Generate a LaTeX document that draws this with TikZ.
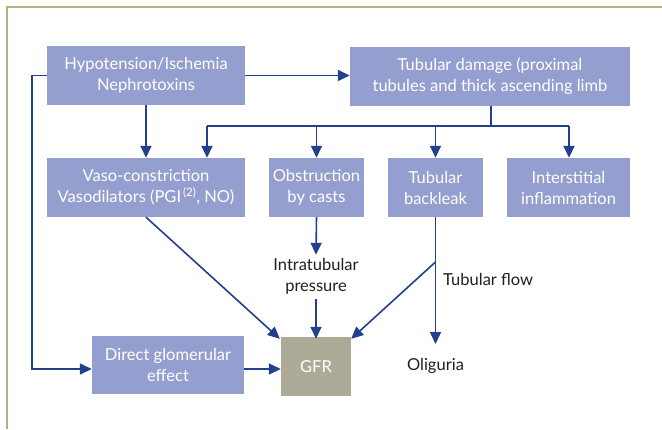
\documentclass[tikz,border=0pt]{standalone}
\usepackage{fontspec}
\setmainfont{Lato}
\usetikzlibrary{arrows.meta,calc}
\definecolor{boxc}{HTML}{959FCF}
\definecolor{gfrc}{HTML}{ADAA98}
\definecolor{arrc}{HTML}{23408E}
\definecolor{framec}{HTML}{B8AE7E}
\definecolor{txtc}{HTML}{231F20}
\tikzset{
  box/.style={rectangle, fill=boxc, text=white, align=center, inner sep=0pt, font=\fontsize{16.5}{21}\selectfont},
  plain/.style={text=txtc, align=center, inner sep=0pt, font=\fontsize{16.5}{21}\selectfont},
  conn/.style={draw=arrc, line width=1.6pt},
  arr/.style={conn, -{Triangle[length=12pt,width=11pt]}},
}
\begin{document}
\begin{tikzpicture}[x=1pt,y=-1pt]
\useasboundingbox (0,0) rectangle (662,429);
\fill[white] (0,0) rectangle (662,429);
\draw[framec, line width=2.2pt] (7,429) -- (7,7) -- (662,7);

\node[box, minimum width=198pt, minimum height=59pt] (hypo) at (146,75.5) {Hypotension/Ischemia\\Nephrotoxins};
\node[box, minimum width=280pt, minimum height=59pt] (tub) at (490,76.5) {Tubular damage (proximal\\tubules and thick ascending limb};
\node[box, minimum width=198pt, minimum height=59pt] (vaso) at (146,187.5) {Vaso-constriction\\Vasodilators (PGI\textsuperscript{\,(2)}, NO)};
\node[box, minimum width=95pt, minimum height=59pt] (obst) at (316.5,187.5) {Obstruction\\by casts};
\node[box, minimum width=95pt, minimum height=59pt] (back) at (435.5,187.5) {Tubular\\backleak};
\node[box, minimum width=123pt, minimum height=59pt] (inter) at (568.5,187.5) {Interstitial\\inflammation};
\node[box, minimum width=152pt, minimum height=58pt] (direct) at (168,365) {Direct glomerular\\effect};
\node[box, fill=gfrc, minimum width=70pt, minimum height=59pt] (gfr) at (316,366.5) {GFR};

\node[plain] (intra) at (316,276) {Intratubular\\pressure};
\node[plain, anchor=west] (flow) at (443,279) {Tubular flow};
\node[plain] (oli) at (435.5,366) {Oliguria};

\coordinate (c1) at (32,75.5);
\coordinate (b1) at (491,126);
\coordinate (bl) at (207,126);
\coordinate (br) at (569,126);
\coordinate (j) at (435.5,262);
\coordinate (oe) at (435.5,344);

\draw[arr] (hypo.west) -- (c1) |- ([yshift=-4pt]direct.west);
\draw[arr] (hypo.east) -- (hypo.east -| tub.west);
\draw[arr] (hypo.south) -- (vaso.north);
\draw[conn] (tub.south -| b1) -- (b1);
\draw[conn] (bl) -- (br);
\draw[arr] (bl) -- (bl |- vaso.north);
\draw[arr] (bl -| obst.north) -- (obst.north);
\draw[arr] (bl -| back.north) -- (back.north);
\draw[arr] (br) -- (br |- inter.north);
\draw[arr] (obst.south) -- ([yshift=3pt]intra.north);
\draw[arr] ([yshift=-5pt]intra.south) -- ([yshift=-2pt]gfr.north);
\draw[arr] (vaso.south) -- ([xshift=-1pt,yshift=-2pt]gfr.north west);
\draw[conn] (back.south) -- (j);
\draw[arr] (j) -- ([yshift=-2pt]gfr.north east);
\draw[arr] (j) -- (oe);
\draw[arr] ([yshift=-4pt]direct.east) -- ([yshift=-2.5pt]gfr.west);
\end{tikzpicture}
\end{document}
